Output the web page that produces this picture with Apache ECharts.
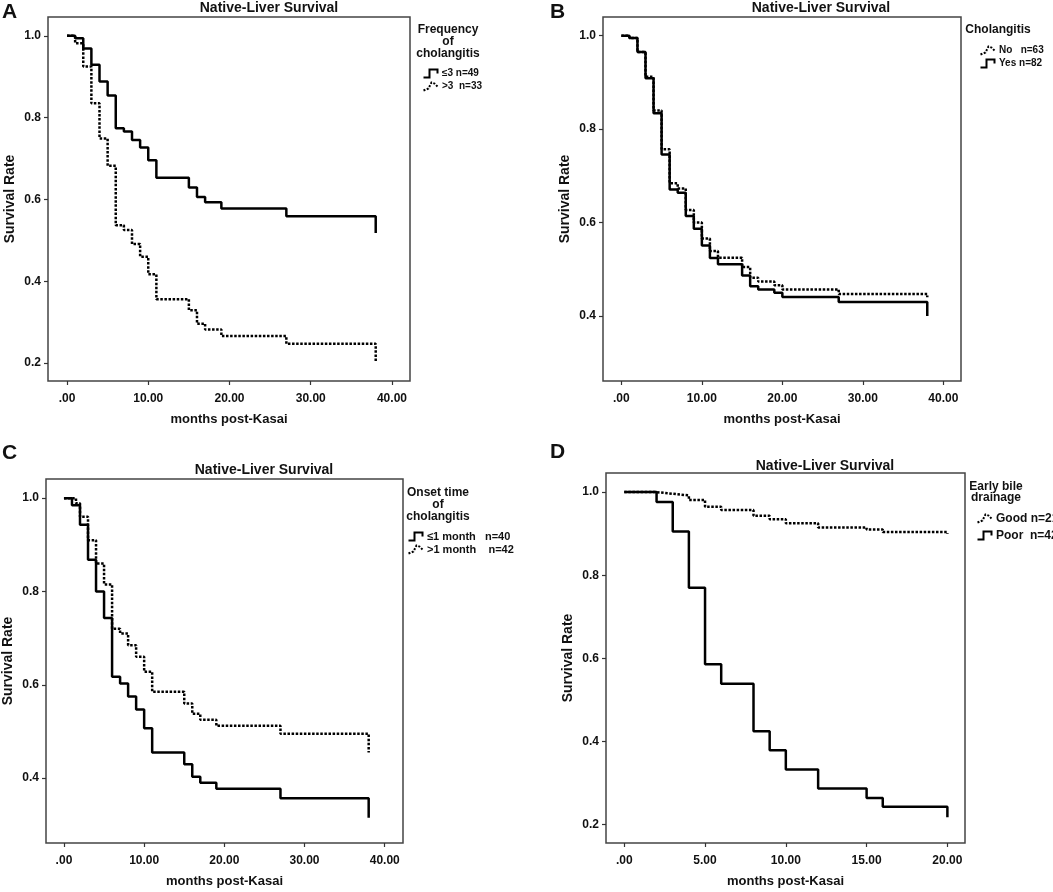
<!DOCTYPE html>
<html>
<head>
<meta charset="utf-8">
<script src="https://cdn.jsdelivr.net/npm/echarts@6/dist/echarts.min.js"></script>
<style>
  html, body { margin: 0; padding: 0; background: #fff; }
  #main { width: 1053px; height: 892px; }
</style>
</head>
<body>
<div id="main"></div>
<script>
var myChart = echarts.init(document.getElementById('main'));

// panel A: frequency of cholangitis
var timesA1 = [0, 1, 2, 3, 4, 5, 6, 7, 8, 9, 10, 11, 15, 16, 17, 19, 27, 38];
var survA1 = [1, 0.994, 0.969, 0.929, 0.888, 0.854, 0.774, 0.766, 0.745, 0.727, 0.696, 0.653, 0.629, 0.606, 0.593, 0.578, 0.559, 0.518];
var timesA2 = [0, 1, 2, 3, 4, 5, 6, 7, 8, 9, 10, 11, 15, 16, 17, 19, 27, 38];
var survA2 = [1, 0.982, 0.925, 0.835, 0.749, 0.682, 0.537, 0.525, 0.491, 0.460, 0.417, 0.356, 0.329, 0.296, 0.282, 0.266, 0.247, 0.202];

// panel B: cholangitis yes / no
var timesB1 = [0, 1, 2, 3, 4, 5, 6, 7, 8, 9, 10, 11, 12, 15, 16, 17, 19, 20, 27, 38];
var survB1 = [1, 0.995, 0.965, 0.912, 0.840, 0.757, 0.684, 0.673, 0.627, 0.600, 0.566, 0.539, 0.525, 0.505, 0.482, 0.474, 0.466, 0.457, 0.447, 0.440];
var timesB2 = [0, 1, 2, 3, 4, 5, 6, 7, 8, 9, 10, 11, 12, 15, 16, 17, 19, 20, 27, 38];
var survB2 = [1, 0.995, 0.965, 0.909, 0.834, 0.746, 0.671, 0.664, 0.614, 0.587, 0.551, 0.524, 0.511, 0.487, 0.464, 0.457, 0.450, 0.441, 0.430, 0.400];

// panel C: onset time of cholangitis
var timesC1 = [0, 1, 2, 3, 4, 5, 6, 7, 8, 9, 10, 11, 15, 16, 17, 19, 27, 38];
var survC1 = [1, 0.985, 0.943, 0.868, 0.800, 0.743, 0.617, 0.603, 0.575, 0.547, 0.507, 0.455, 0.430, 0.403, 0.390, 0.377, 0.357, 0.315];
var timesC2 = [0, 1.5, 2, 3, 4, 5, 6, 7, 8, 9, 10, 11, 15, 16, 17, 19, 27, 38];
var survC2 = [1, 0.989, 0.960, 0.910, 0.860, 0.815, 0.720, 0.710, 0.685, 0.660, 0.628, 0.585, 0.560, 0.538, 0.525, 0.512, 0.495, 0.455];

// panel D: early bile drainage
var timesD1 = [0, 2, 3, 4, 5, 6, 8, 9, 10, 12, 15, 16, 20];
var survD1 = [1, 0.996, 0.992, 0.981, 0.965, 0.957, 0.943, 0.935, 0.925, 0.915, 0.910, 0.904, 0.900];
var timesD2 = [0, 2, 3, 4, 5, 6, 8, 9, 10, 12, 15, 16, 20];
var survD2 = [1, 0.976, 0.905, 0.770, 0.586, 0.539, 0.425, 0.379, 0.333, 0.287, 0.264, 0.243, 0.218];

var xTicks40 = [0, 10, 20, 30, 40];
var xTicks20 = [0, 5, 10, 15, 20];
var yTicksAD = [0.2, 0.4, 0.6, 0.8, 1.0];
var yTicksBC = [0.4, 0.6, 0.8, 1.0];

var FONT = 'Liberation Sans, Arial, sans-serif';
var DOT = [2.5, 1.6];
var STEP_SOLID = 'path://M0,9L6,9L6,1L14,1L14,5';
var STEP_DOT = 'path://M0,9L5,7L8,1L11,2L14,5';

function zip(t, s) {
  return t.map(function (v, i) { return [v, s[i]]; });
}

function xAxis(idx, min, max, ticks) {
  return {
    type: 'value', gridIndex: idx, min: min, max: max,
    name: 'months post-Kasai', nameLocation: 'middle', nameGap: 32, nameMoveOverlap: false,
    nameTextStyle: { fontFamily: FONT, fontWeight: 'bold', fontSize: 13, color: '#111' },
    axisLine: { show: false, onZero: false },
    axisTick: { show: true, length: 4, customValues: ticks, lineStyle: { color: '#333', width: 1.2 } },
    axisLabel: {
      customValues: ticks, margin: 12, fontFamily: FONT, fontWeight: 'bold', fontSize: 12, color: '#111',
      formatter: function (v) { return v === 0 ? '.00' : v.toFixed(2); }
    },
    splitLine: { show: false }
  };
}

function yAxis(idx, min, max, ticks) {
  return {
    type: 'value', gridIndex: idx, min: min, max: max,
    name: 'Survival Rate', nameLocation: 'middle', nameGap: 31, nameMoveOverlap: false,
    nameTextStyle: { fontFamily: FONT, fontWeight: 'bold', fontSize: 14, color: '#111' },
    axisLine: { show: false, onZero: false },
    axisTick: { show: true, length: 4, customValues: ticks, lineStyle: { color: '#333', width: 1.2 } },
    axisLabel: {
      customValues: ticks, margin: 7, fontFamily: FONT, fontWeight: 'bold', fontSize: 12, color: '#111',
      formatter: function (v) { return v.toFixed(1); }
    },
    splitLine: { show: false }
  };
}

function curve(name, idx, t, s, dotted) {
  return {
    name: name, type: 'line', step: 'end', xAxisIndex: idx, yAxisIndex: idx,
    showSymbol: false, symbol: 'none', silent: true,
    itemStyle: { color: '#000' },
    lineStyle: { color: '#000', width: 2.5, type: dotted ? DOT : 'solid' },
    data: zip(t, s)
  };
}

function legendItem(name, dotted) {
  return {
    name: name, icon: dotted ? STEP_DOT : STEP_SOLID,
    itemStyle: { color: 'none', borderColor: '#000', borderWidth: 2, borderType: dotted ? [2, 1.5] : 'solid' }
  };
}

function legend(left, top, gap, size, items) {
  return {
    orient: 'vertical', left: left, top: top, padding: 0, itemGap: gap,
    itemWidth: 17, itemHeight: 8, itemStyle: { color: 'none' },
    selectedMode: false,
    textStyle: { fontFamily: FONT, fontWeight: 'bold', fontSize: size, color: '#111', padding: [0, 0, 0, -2] },
    data: items
  };
}

function heading(text, x, y, lh) {
  return {
    type: 'text', x: x, y: y, silent: true,
    style: {
      text: text, x: 0, y: 0, textAlign: 'center', textVerticalAlign: 'top',
      font: 'bold 12px ' + FONT, lineHeight: lh, fill: '#111'
    }
  };
}

function letter(text, x, y) {
  return {
    type: 'text', x: x, y: y, silent: true,
    style: { text: text, x: 0, y: 0, font: 'bold 21px ' + FONT, fill: '#111' }
  };
}

function mainTitle(x, y) {
  return {
    text: 'Native-Liver Survival', left: x, top: y, textAlign: 'center', padding: 0,
    textStyle: { fontFamily: FONT, fontWeight: 'bold', fontSize: 14, lineHeight: 14, color: '#111' }
  };
}

var gridStyle = {
  show: true, borderColor: '#444', borderWidth: 1.5, backgroundColor: 'transparent',
  containLabel: false, outerBoundsMode: 'none'
};

var option = {
  animation: false,
  backgroundColor: '#fff',
  title: [mainTitle(269, 1), mainTitle(821, 1), mainTitle(264, 463), mainTitle(825, 459)],
  grid: [
    Object.assign({ left: 48, top: 17, width: 362, height: 364 }, gridStyle),
    Object.assign({ left: 603, top: 17, width: 358, height: 364 }, gridStyle),
    Object.assign({ left: 46, top: 479, width: 357, height: 364 }, gridStyle),
    Object.assign({ left: 606, top: 473, width: 359, height: 370 }, gridStyle)
  ],
  xAxis: [
    xAxis(0, -2.34, 42.22, xTicks40),
    xAxis(1, -2.28, 42.19, xTicks40),
    xAxis(2, -2.24, 42.28, xTicks40),
    xAxis(3, -1.13, 21.09, xTicks20)
  ],
  yAxis: [
    yAxis(0, 0.156, 1.046, yTicksAD),
    yAxis(1, 0.261, 1.040, yTicksBC),
    yAxis(2, 0.261, 1.041, yTicksBC),
    yAxis(3, 0.156, 1.046, yTicksAD)
  ],
  legend: [
    legend(421, 67, 0, 10, [legendItem('≤3 n=49', false), legendItem('>3  n=33', true)]),
    legend(978, 44, 0, 10, [legendItem('No   n=63', true), legendItem('Yes n=82', false)]),
    legend(406, 530, 0, 11, [legendItem('≤1 month   n=40', false), legendItem('>1 month    n=42', true)]),
    legend(975, 512, 4, 12, [legendItem('Good n=21', true), legendItem('Poor  n=42', false)])
  ],
  graphic: [
    letter('A', 2, 2), letter('B', 550, 2), letter('C', 2, 443), letter('D', 550, 442),
    heading('Frequency\nof\ncholangitis', 448, 24, 11.7),
    heading('Cholangitis', 998, 24, 12),
    heading('Onset time\nof\ncholangitis', 438, 487, 11.7),
    heading('Early bile\ndrainage', 996, 481, 11)
  ],
  series: [
    curve('≤3 n=49', 0, timesA1, survA1, false),
    curve('>3  n=33', 0, timesA2, survA2, true),
    curve('No   n=63', 1, timesB1, survB1, true),
    curve('Yes n=82', 1, timesB2, survB2, false),
    curve('≤1 month   n=40', 2, timesC1, survC1, false),
    curve('>1 month    n=42', 2, timesC2, survC2, true),
    curve('Good n=21', 3, timesD1, survD1, true),
    curve('Poor  n=42', 3, timesD2, survD2, false)
  ]
};
myChart.setOption(option);
</script>
</body>
</html>
